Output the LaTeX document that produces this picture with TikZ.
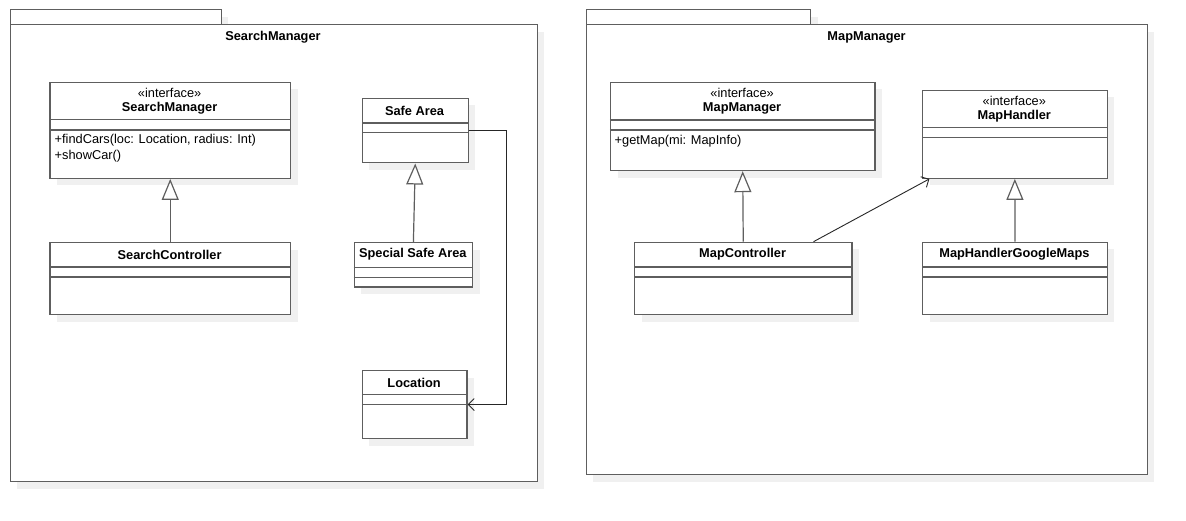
\documentclass[tikz,border=0pt]{standalone}
\usepackage{fontspec}
\setmainfont{Liberation Sans}
\usetikzlibrary{arrows.meta,shadows,calc}
\definecolor{boxline}{HTML}{5E5E5E}
\definecolor{shadowgray}{HTML}{F0F0F0}
\tikzset{
  shadowed/.style={general shadow={fill=shadowgray, shadow xshift=7pt, shadow yshift=-7pt}},
  cls/.style={draw=boxline, line width=1.2pt, fill=white, rectangle, inner sep=0pt, anchor=north west, shadowed},
  sep/.style={draw=boxline, line width=1.2pt},
  bname/.style={font=\fontsize{12.8}{15.7}\selectfont\bfseries, inner sep=0pt},
  stereo/.style={font=\fontsize{12.8}{15.7}\selectfont, inner sep=0pt},
  member/.style={font=\fontsize{12.8}{15.7}\selectfont, inner sep=0pt, anchor=west},
  gen/.style={draw=boxline, line width=1.2pt, -{Triangle[open, length=21pt, width=17pt, fill=white]}},
  assoc/.style={draw=black!85, line width=0.9pt, -{Straight Barb[length=6pt, width=12pt]}},
}
\newcommand\compart[3]{%
  \draw[sep] ([yshift=-#2pt]#1.north west) -- ([yshift=-#2pt]#1.north east);
  \draw[sep] ([yshift=-#3pt]#1.north west) -- ([yshift=-#3pt]#1.north east);}
\begin{document}
\begin{tikzpicture}[x=1pt,y=-1pt]
\useasboundingbox (0,0) rectangle (1186,521);

% ---------- Package SearchManager ----------
\node[cls, minimum width=211.1pt, minimum height=14.7pt] (pkgAtab) at (9.6,9.3) {};
\node[cls, minimum width=527.2pt, minimum height=457pt] (pkgA) at (9.6,24) {};
\node[bname] (pkgAtitle) at (273,37.7) {SearchManager};

% SearchManager interface
\node[cls, minimum width=240.7pt, minimum height=96pt] (sm) at (49.3,81.7) {};
\compart{sm}{37.6}{48.3}
\node[stereo] (smst) at (169.6,93.3) {«interface»};
\node[bname] (smname) at (169.6,108.5) {SearchManager};
\node[member] (smm1) at (54.5,140) {+findCars(loc: Location, radius: Int)};
\node[member] (smm2) at (54.5,155.7) {+showCar()};

% SearchController
\node[cls, minimum width=240.7pt, minimum height=72pt] (sc) at (49.3,242) {};
\compart{sc}{25}{35}
\node[bname] (scname) at (169.6,254.5) {SearchController};

% Safe Area
\node[cls, minimum width=105.7pt, minimum height=64.6pt] (sa) at (361.8,97.7) {};
\compart{sa}{25.3}{35}
\node[bname] (saname) at (414.6,110.5) {Safe Area};

% Special Safe Area
\node[cls, minimum width=118.4pt, minimum height=44.5pt] (ssa) at (353.6,242) {};
\compart{ssa}{25.5}{35.5}
\node[bname] (ssaname) at (412.8,254.5) {Special Safe Area};

% Location
\node[cls, minimum width=104.6pt, minimum height=68pt] (loc) at (361.8,370) {};
\compart{loc}{24.3}{34.7}
\node[bname] (locname) at (414.1,382.5) {Location};

\draw[gen] (sc.north) -- (sm.south);
\draw[gen] (ssa.north) -- (sa.south);
\draw[assoc] (sa.east) -- ++(38.2,0) |- (loc.east);

% ---------- Package MapManager ----------
\node[cls, minimum width=224.4pt, minimum height=14.7pt] (pkgBtab) at (585.6,9.3) {};
\node[cls, minimum width=561.1pt, minimum height=450pt] (pkgB) at (585.6,24) {};
\node[bname] (pkgBtitle) at (866.6,37.7) {MapManager};

% MapManager interface
\node[cls, minimum width=264.4pt, minimum height=88.3pt] (mm) at (609.9,81.7) {};
\compart{mm}{38.3}{48.3}
\node[stereo] (mmst) at (742.1,93.3) {«interface»};
\node[bname] (mmname) at (742.1,108.5) {MapManager};
\node[member] (mmm1) at (614.5,141) {+getMap(mi: MapInfo)};

% MapHandler interface
\node[cls, minimum width=184.5pt, minimum height=88pt] (mh) at (922,89.7) {};
\compart{mh}{37.6}{48}
\node[stereo] (mhst) at (1014.3,101) {«interface»};
\node[bname] (mhname) at (1014.3,116.5) {MapHandler};

% MapController
\node[cls, minimum width=217.3pt, minimum height=72.3pt] (mc) at (634,241.7) {};
\compart{mc}{25.3}{35.3}
\node[bname] (mcname) at (742.6,254.5) {MapController};

% MapHandlerGoogleMaps
\node[cls, minimum width=184.8pt, minimum height=72.3pt] (mhg) at (922,241.7) {};
\compart{mhg}{25.3}{35.3}
\node[bname] (mhgname) at (1014.4,254.5) {MapHandlerGoogleMaps};

\draw[gen] (mc.north) -- (mm.south);
\draw[gen] (mhg.north) -- (mh.south);
\draw[assoc] ([xshift=-39pt]mc.north east) -- ([xshift=7.4pt]mh.south west);
\end{tikzpicture}
\end{document}
